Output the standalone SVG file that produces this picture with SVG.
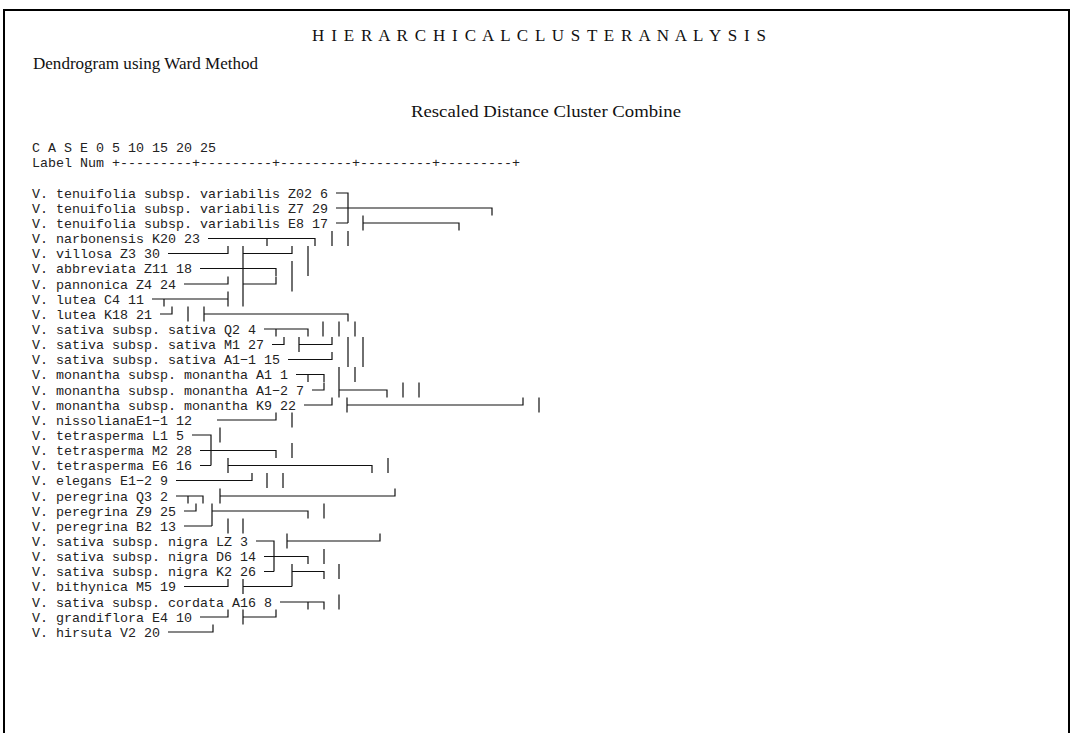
<svg xmlns="http://www.w3.org/2000/svg" width="1074" height="733" viewBox="0 0 1074 733">
<style>
.hd{font-family:"Liberation Serif","Times New Roman",serif;font-size:17px;fill:#111}
.mono{font-family:"Liberation Mono","Courier New",monospace;font-size:13.333px;fill:#222;white-space:pre}
.ln{fill:none;stroke:#111;stroke-width:1.2}
.frame{fill:none;stroke:#000;stroke-width:2}
</style>
<rect width="1074" height="733" fill="#fff"/>
<path class="frame" d="M4,740 V10 H1069 V740"/>
<g id="header">
<text class="hd" x="312" y="41" textLength="454" lengthAdjust="spacing">H I E R A R C H I C A L C L U S T E R A N A L Y S I S</text>
<text class="hd" x="33" y="69" textLength="225" lengthAdjust="spacingAndGlyphs">Dendrogram using Ward Method</text>
<text class="hd" x="411" y="117" textLength="270" lengthAdjust="spacingAndGlyphs">Rescaled Distance Cluster Combine</text>
<text class="mono" x="32" y="152" xml:space="preserve">C A S E 0 5 10 15 20 25</text>
<text class="mono" x="32" y="167" xml:space="preserve">Label Num +---------+---------+---------+---------+---------+</text>
</g>
<g id="labels" class="mono">
<g id="n6"><text x="32" y="197.5">V. tenuifolia subsp. variabilis Z02 6</text></g>
<g id="n29"><text x="32" y="212.5">V. tenuifolia subsp. variabilis Z7 29</text></g>
<g id="n17"><text x="32" y="227.5">V. tenuifolia subsp. variabilis E8 17</text></g>
<g id="n23"><text x="32" y="243">V. narbonensis K20 23</text></g>
<g id="n30"><text x="32" y="258">V. villosa Z3 30</text></g>
<g id="n18"><text x="32" y="273">V. abbreviata Z11 18</text></g>
<g id="n24"><text x="32" y="288.5">V. pannonica Z4 24</text></g>
<g id="n11"><text x="32" y="303.5">V. lutea C4 11</text></g>
<g id="n21"><text x="32" y="318.5">V. lutea K18 21</text></g>
<g id="n4"><text x="32" y="333.5">V. sativa subsp. sativa Q2 4</text></g>
<g id="n27"><text x="32" y="349">V. sativa subsp. sativa M1 27</text></g>
<g id="n15"><text x="32" y="364">V. sativa subsp. sativa A1−1 15</text></g>
<g id="n1"><text x="32" y="379">V. monantha subsp. monantha A1 1</text></g>
<g id="n7"><text x="32" y="394.5">V. monantha subsp. monantha A1−2 7</text></g>
<g id="n22"><text x="32" y="409.5">V. monantha subsp. monantha K9 22</text></g>
<g id="n12"><text x="32" y="424.5">V. nissolianaE1−1 12</text></g>
<g id="n5"><text x="32" y="439.5">V. tetrasperma L1 5</text></g>
<g id="n28"><text x="32" y="455">V. tetrasperma M2 28</text></g>
<g id="n16"><text x="32" y="470">V. tetrasperma E6 16</text></g>
<g id="n9"><text x="32" y="485">V. elegans E1−2 9</text></g>
<g id="n2"><text x="32" y="500.5">V. peregrina Q3 2</text></g>
<g id="n25"><text x="32" y="515.5">V. peregrina Z9 25</text></g>
<g id="n13"><text x="32" y="530.5">V. peregrina B2 13</text></g>
<g id="n3"><text x="32" y="545.5">V. sativa subsp. nigra LZ 3</text></g>
<g id="n14"><text x="32" y="561">V. sativa subsp. nigra D6 14</text></g>
<g id="n26"><text x="32" y="576">V. sativa subsp. nigra K2 26</text></g>
<g id="n19"><text x="32" y="591">V. bithynica M5 19</text></g>
<g id="n8"><text x="32" y="606.5">V. sativa subsp. cordata A16 8</text></g>
<g id="n10"><text x="32" y="621.5">V. grandiflora E4 10</text></g>
<g id="n20"><text x="32" y="636.5">V. hirsuta V2 20</text></g>
</g>
<g id="connectors" class="ln">
<path d="M336,193 H348 V223 M336,223 H348"/>
<path d="M336,208 H492 V215.5"/>
<path d="M363,215.5 V230.5 M363,223 H459 V230.5"/>
<path d="M208,238.5 H315 V246 M267,238.5 V246 M332,231 V246 M348,231 V246"/>
<path d="M168,253.5 H228 V246 M243,246 V306.5 M243,253.5 H292 V246 M308,246 V276"/>
<path d="M200,268.5 H276 V276 M292,261 V291.5"/>
<path d="M184,284 H228 V276.5 M243,284 H276 V276.5"/>
<path d="M152,299 H228 M164,299 V306.5 M228,291.5 V306.5"/>
<path d="M160,314 H172 V306.5 M188,306.5 V321.5 M204,306.5 V321.5 M204,314 H348 V321.5"/>
<path d="M264,329 H308 V336.5 M276,329 V336.5 M323,321.5 V336.5 M339,321.5 V336.5 M355,321.5 V336.5"/>
<path d="M272,344.5 H284 V337 M299,337 V352 M299,344.5 H332 V337 M348,337 V367 M363,337 V367"/>
<path d="M288,359.5 H332 V352"/>
<path d="M296,374.5 H324 V382 M308,374.5 V382 M339,367 V397.5 M355,367 V382"/>
<path d="M312,390 H324 V382.5 M339,390 H387 V397.5 M403,382.5 V397.5 M419,382.5 V397.5"/>
<path d="M304,405 H332 V397.5 M347,397.5 V412.5 M347,405 H523 V397.5 M539,397.5 V412.5"/>
<path d="M217,420 H276 V412.5 M292,412.5 V427.5"/>
<path d="M192,435 H211 V465.5 M220,427.5 V442.5"/>
<path d="M200,450.5 H276 V458 M292,443 V458"/>
<path d="M200,465.5 H211 M228,458 V473 M228,465.5 H372 V473 M388,458 V473"/>
<path d="M176,480.5 H252 V473 M267,473 V488 M283,473 V488"/>
<path d="M176,496 H203 V503.5 M188,496 V503.5 M220,488.5 V503.5 M220,496 H395 V488.5"/>
<path d="M184,511 H196 V503.5 M212,503.5 V526 M212,511 H308 V518.5 M324,503.5 V518.5"/>
<path d="M184,526 H212 M228,518.5 V533.5 M243,518.5 V533.5"/>
<path d="M256,541 H274 V571.5 M287,533.5 V548.5 M287,541 H380 V533.5"/>
<path d="M264,556.5 H308 V564 M324,549 V564"/>
<path d="M264,571.5 H274 M292,564 V586.5 M292,571.5 H324 V579 M339,564 V579"/>
<path d="M184,586.5 H228 V579 M243,579 V594 M243,586.5 H292"/>
<path d="M280,602 H324 V609.5 M308,602 V609.5 M339,594.5 V609.5"/>
<path d="M200,617 H228 V609.5 M243,609.5 V624.5 M243,617 H276 V609.5"/>
<path d="M168,632 H213 V624.5"/>
</g>
</svg>
